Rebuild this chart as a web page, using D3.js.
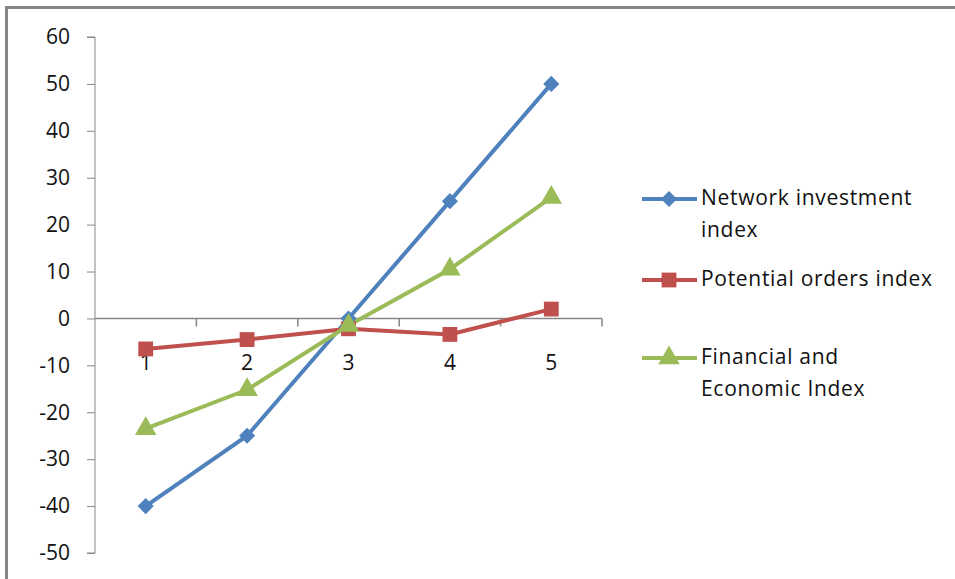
<!DOCTYPE html>
<html><head><meta charset="utf-8">
<script src="https://cdn.jsdelivr.net/npm/d3@7"></script>
<style>body{margin:0;background:#fff}svg{display:block}text{font-family:"Open Sans","Liberation Sans",sans-serif;fill:#111}</style>
</head><body>
<svg id="c" width="955" height="579"></svg>
<script>
const categories = ["1","2","3","4","5"];
const networkInvestment = [-40, -25, 0, 25, 50];
const potentialOrders = [-6.5, -4.5, -2.2, -3.4, 2];
const financialEconomic = [-23.5, -15.2, -1.5, 10.5, 25.8];
const yTicks = [60,50,40,30,20,10,0,-10,-20,-30,-40,-50];
const seriesNames = [["Network investment","index"],["Potential orders index"],["Financial and","Economic Index"]];

const FS = 21;
const svg = d3.select("#c");
// outer chart border (right/bottom clipped off-canvas)
svg.append("path").attr("d","M6.5,1000V7.5H1000")
  .attr("fill","none").attr("stroke","#868686").attr("stroke-width",3);

const x = d3.scaleBand().domain(categories).range([95,602]);
const y = d3.scaleLinear().domain([-50,60]).range([553,37]);

// y axis
const ya = svg.append("g").attr("transform","translate(95,0)")
  .call(d3.axisLeft(y).tickValues(yTicks).tickSize(8).tickPadding(17).tickFormat(d=>String(d)));
ya.select(".domain").attr("stroke","#868686").attr("d","M-8,"+y(60)+"H0V"+y(-50)+"H-8");
ya.selectAll(".tick line").attr("stroke","#868686");
ya.selectAll(".tick text").attr("font-size",FS).attr("font-family","Open Sans").attr("fill","#111");

// x axis at zero
const xa = svg.append("g").attr("transform","translate(0,"+y(0)+")");
xa.append("line").attr("x1",95).attr("x2",602).attr("stroke","#868686").attr("stroke-width",1.5);
const edges = categories.map(c=>x(c)).concat([x.range()[1]]);
xa.selectAll("line.t").data(edges.slice(1)).join("line").attr("class","t")
  .attr("x1",d=>d).attr("x2",d=>d).attr("y1",0).attr("y2",8).attr("stroke","#868686").attr("stroke-width",1.5);
xa.selectAll("text").data(categories).join("text")
  .attr("x",d=>x(d)+x.bandwidth()/2).attr("y",y(-10)-y(0)-1).attr("text-anchor","middle")
  .attr("dominant-baseline","middle").attr("font-size",FS).text(d=>d);

const series = [
  {vals:networkInvestment,color:"#4F81BD",shape:d3.symbolSquare,size:130,rot:45},
  {vals:potentialOrders,color:"#C0504D",shape:d3.symbolSquare,size:220,rot:0},
  {vals:financialEconomic,color:"#9BBB59",shape:d3.symbolTriangle,size:200,rot:0}
];
const cx = i => x(categories[i]) + x.bandwidth()/2;
const line = d3.line().x((d,i)=>cx(i)).y(d=>y(d));
series.forEach(s=>{
  svg.append("path").attr("d",line(s.vals)).attr("fill","none").attr("stroke",s.color).attr("stroke-width",4);
});
series.forEach(s=>{
  svg.selectAll(null).data(s.vals).join("path")
    .attr("transform",(d,i)=>"translate("+cx(i)+","+y(d)+") rotate("+s.rot+")")
    .attr("d",d3.symbol().type(s.shape).size(s.size)).attr("fill",s.color);
});

// legend
const legY = [199, 280, 358];
series.forEach((s,k)=>{
  const g = svg.append("g").attr("transform","translate(0,"+legY[k]+")");
  g.append("line").attr("x1",642).attr("x2",697).attr("stroke",s.color).attr("stroke-width",4);
  g.append("path").attr("transform","translate(669,0) rotate("+s.rot+")").attr("d",d3.symbol().type(s.shape).size(s.size)).attr("fill",s.color);
  seriesNames[k].forEach((t,j)=>{
    g.append("text").attr("x",701).attr("y",j*32).attr("dominant-baseline","middle")
      .attr("font-size",FS).attr("letter-spacing",0.7).text(t);
  });
});
</script>
</body></html>
